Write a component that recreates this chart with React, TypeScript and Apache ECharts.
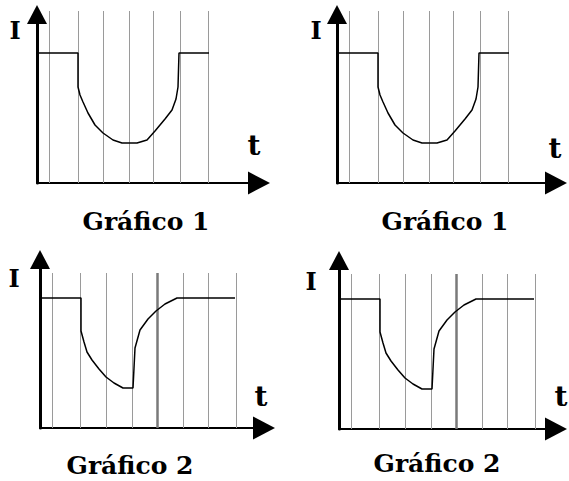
import React, { useEffect, useRef } from 'react';
import * as echarts from 'echarts';

// Current I(t) traces (t and I in the same screen-like units)
const graph1Curve: [number, number][] = [
  [0, 130], [41, 130], [41, 96], [43, 88], [46, 81], [51, 70], [58, 58], [66, 50],
  [76, 43], [85, 40], [100, 40], [110, 43], [118, 52], [128, 64], [135, 73],
  [139, 84], [141, 96], [142, 130], [172, 130],
];
const graph2Curve: [number, number][] = [
  [0, 130], [41, 130], [41, 97], [44, 86], [47, 76], [52, 68], [59, 59], [66, 51],
  [74, 45], [83, 40], [93, 40], [94, 60], [95, 80], [100, 98], [108, 109],
  [116, 117], [125, 124], [133, 128], [137, 130], [195, 130],
];
// Vertical reference lines (t positions) and their height
const graph1GridT = [12, 41, 66, 92, 116, 143, 171];
const graph2GridT = [12, 40, 66, 92, 117, 143, 168, 196];
const graph2ThickT = 117;
const graph1GridTop = 172;
const graph2GridTop = 155;
const yAxisMax = 172;
const panelTitles = ['Gráfico 1', 'Gráfico 1', 'Gráfico 2', 'Gráfico 2'];
const yAxisName = 'I';
const xAxisName = 't';

const panels = [
  { left: 37, top: 11, width: 222, graph: 1, iX: 15, iY: 30, tX: 254, tY: 145, tx: 146, ty: 221.5 },
  { left: 337, top: 11, width: 219, graph: 1, iX: 316, iY: 30, tX: 555, tY: 148, tx: 445, ty: 221.5 },
  { left: 40, top: 256, width: 224, graph: 2, iX: 14, iY: 278, tX: 261, tY: 396, tx: 130, ty: 465 },
  { left: 339, top: 257, width: 217, graph: 2, iX: 311, iY: 281, tX: 561, tY: 396, tx: 437, ty: 463 },
];

export default function App() {
  const ref = useRef<HTMLDivElement>(null);
  useEffect(() => {
    if (!ref.current) return;
    const chart = echarts.init(ref.current, undefined, { renderer: 'svg' });
    const grid: any[] = [];
    const xAxis: any[] = [];
    const yAxis: any[] = [];
    const series: any[] = [];
    const graphic: any[] = [];
    panels.forEach((p, i) => {
      grid.push({
        left: p.left, top: p.top, width: p.width, height: yAxisMax,
        containLabel: false, outerBoundsMode: 'none',
      });
      xAxis.push({
        type: 'value', gridIndex: i, min: 0, max: p.width,
        axisLine: {
          show: true, onZero: false, symbol: ['none', 'triangle'], symbolSize: [23, 22],
          lineStyle: { color: '#000', width: 2 },
        },
        axisTick: { show: false }, axisLabel: { show: false }, splitLine: { show: false },
      });
      yAxis.push({
        type: 'value', gridIndex: i, min: 0, max: yAxisMax,
        axisLine: {
          show: true, onZero: false, symbol: ['none', 'triangle'], symbolSize: [20, 19],
          symbolOffset: [0, -3.5],
          lineStyle: { color: '#000', width: 3 },
        },
        axisTick: { show: false }, axisLabel: { show: false }, splitLine: { show: false },
      });
      const gridT = p.graph === 1 ? graph1GridT : graph2GridT;
      const gridTop = p.graph === 1 ? graph1GridTop : graph2GridTop;
      series.push({
        type: 'line', xAxisIndex: i, yAxisIndex: i, z: 10,
        data: p.graph === 1 ? graph1Curve : graph2Curve,
        symbol: 'none', silent: true,
        lineStyle: { color: '#000', width: 1.5 },
        markLine: {
          silent: true, symbol: ['none', 'none'], label: { show: false },
          lineStyle: { color: '#9a9a9a', width: 1, type: 'solid' },
          emphasis: { disabled: true },
          data: gridT.map((t) => {
            const thick = p.graph === 2 && t === graph2ThickT;
            return [
              { coord: [t, 0], lineStyle: thick ? { color: '#7a7a7a', width: 2.5, type: 'solid' } : undefined },
              { coord: [t, gridTop] },
            ];
          }),
        },
      });
      graphic.push({
        type: 'text', x: p.iX, y: p.iY,
        style: {
          text: yAxisName, font: 'bold 24px "DejaVu Serif"', fill: '#000',
          align: 'center', verticalAlign: 'middle',
        },
      });
      graphic.push({
        type: 'text', x: p.tX, y: p.tY,
        style: {
          text: xAxisName, font: 'bold 28px "DejaVu Serif"', fill: '#000',
          align: 'center', verticalAlign: 'middle',
        },
      });
      graphic.push({
        type: 'text', x: p.tx, y: p.ty,
        style: {
          text: panelTitles[i], font: 'bold 25px "DejaVu Serif"', fill: '#000',
          align: 'center', verticalAlign: 'middle',
        },
      });
    });
    chart.setOption({
      animation: false,
      backgroundColor: '#fff',
      grid, xAxis, yAxis, series, graphic,
    });
    return () => chart.dispose();
  }, []);
  return <div ref={ref} style={{ width: 569, height: 481, position: 'absolute', left: 0, top: 0 }} />;
}
